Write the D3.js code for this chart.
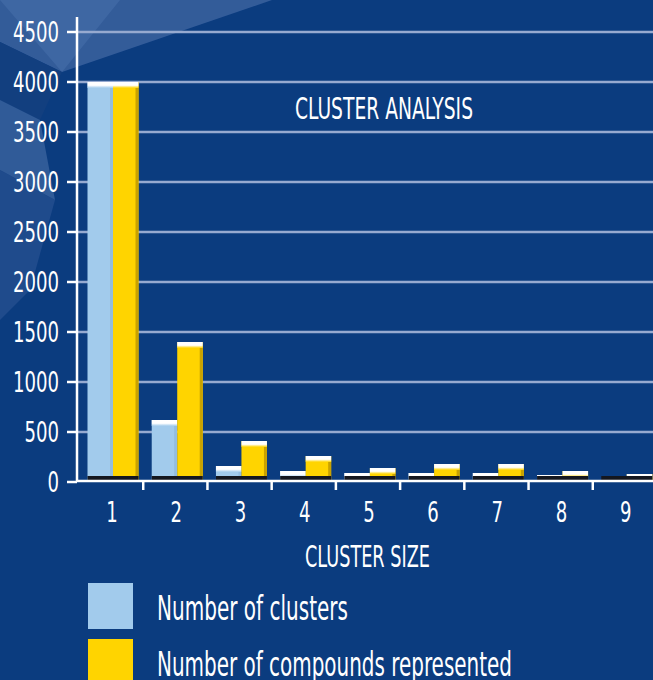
<!DOCTYPE html>
<html>
<head>
<meta charset="utf-8">
<script src="https://cdn.jsdelivr.net/npm/d3@7"></script>
<style>
  html, body { margin: 0; padding: 0; background: #0b3c7f; }
  svg { display: block; }
  text { font-family: 'Liberation Sans Narrow', 'Arial Narrow', 'DejaVu Sans Condensed', sans-serif; fill: #fff; }
</style>
</head>
<body>
<div id="chart"></div>
<script>
'use strict';

// cluster size categories
const categories = ['1', '2', '3', '4', '5', '6', '7', '8', '9'];
// number of clusters per size
const clusterCounts = [4000, 620, 160, 110, 90, 90, 90, 70, 5];
// number of compounds represented per size
const compoundCounts = [4000, 1400, 410, 260, 140, 180, 180, 110, 80];
const yTicks = [0, 500, 1000, 1500, 2000, 2500, 3000, 3500, 4000, 4500];
const seriesNames = ['Number of clusters', 'Number of compounds represented'];
const seriesColors = ['#a2cbec', '#ffd400'];

const W = 653, H = 680;
const DIGIT = 11.5; // narrow digit width
const svg = d3.select('#chart').append('svg')
  .attr('width', W)
  .attr('height', H);

const defs = svg.append('defs');
seriesColors.forEach((c, i) => {
  var g = defs.append('linearGradient')
    .attr('id', 'top-' + i)
    .attr('x1', 0).attr('y1', 0).attr('x2', 0).attr('y2', 1);
  g.append('stop').attr('offset', '0%').attr('stop-color', '#ffffff');
  g.append('stop').attr('offset', '55%').attr('stop-color', '#ffffff');
  g.append('stop').attr('offset', '100%').attr('stop-color', c);
});

// background
svg.append('rect').attr('width', W).attr('height', H).attr('fill', '#0b3c7f');
// faceted decoration top-left
var deco = svg.append('g').attr('class', 'deco');
[
  {p: [[0, 0], [272, 0], [62, 72], [0, 42]], f: '#3d64a0', o: 0.8},
  {p: [[0, 0], [120, 0], [62, 72]], f: '#4a72ad', o: 0.5},
  {p: [[0, 42], [62, 72], [40, 120], [0, 100]], f: '#133f80', o: 0.9},
  {p: [[0, 100], [40, 120], [55, 200], [0, 170]], f: '#4a70a8', o: 0.6},
  {p: [[0, 170], [55, 200], [30, 290], [0, 320]], f: '#33599a', o: 0.5}
].forEach(d => {
  deco.append('polygon')
    .attr('points', d.p.map(q => q.join(',')).join(' '))
    .attr('fill', d.f)
    .attr('opacity', d.o);
});

const x = d3.scaleBand().domain(categories).range([79, 657]);
const xs = d3.scaleBand().domain([0, 1]).range([8.5, 59.5]);
const y = d3.scaleLinear().domain([0, 4500]).range([482, 32]);

// gridlines
svg.append('g').attr('class', 'grid')
  .selectAll('line').data(yTicks.filter(t => t > 0))
  .enter().append('line')
  .attr('x1', 77).attr('x2', W)
  .attr('y1', d => y(d)).attr('y2', d => y(d))
  .attr('stroke', '#97aad0')
  .attr('stroke-width', 2.5);

// bars
var rows = categories.map((c, i) => ({cat: c, vals: [clusterCounts[i], compoundCounts[i]]}));
var groups = svg.append('g').attr('class', 'bars')
  .selectAll('g').data(rows)
  .enter().append('g')
  .attr('transform', d => 'translate(' + x(d.cat) + ',0)');

var bar = groups.selectAll('g').data(d => d.vals.map((v, k) => ({v: v, k: k})))
  .enter().append('g');
bar.append('rect')
  .attr('x', d => xs(d.k))
  .attr('y', d => y(d.v))
  .attr('width', xs.bandwidth())
  .attr('height', d => y(0) - y(d.v))
  .attr('fill', d => seriesColors[d.k]);
// darker right edge
bar.append('rect')
  .attr('x', d => xs(d.k) + xs.bandwidth() - 3)
  .attr('y', d => y(d.v))
  .attr('width', 3)
  .attr('height', d => y(0) - y(d.v))
  .attr('fill', d => d.k === 1 ? '#c9a200' : '#86b0d4')
  .attr('opacity', d => d.k === 1 ? 1 : 0.5);
// top highlight
bar.append('rect')
  .attr('x', d => xs(d.k))
  .attr('y', d => y(d.v))
  .attr('width', xs.bandwidth())
  .attr('height', d => Math.min(6, y(0) - y(d.v)))
  .attr('fill', d => 'url(#top-' + d.k + ')');
// floor shadow
groups.append('rect')
  .attr('x', xs(0))
  .attr('y', y(0) - 6)
  .attr('width', xs.bandwidth() * 2)
  .attr('height', 5)
  .attr('fill', '#14171f');

// axes
svg.append('line')
  .attr('x1', 77).attr('x2', 77)
  .attr('y1', 17).attr('y2', y(0))
  .attr('stroke', '#fff').attr('stroke-width', 2.5);
svg.append('line')
  .attr('x1', 77).attr('x2', W)
  .attr('y1', y(0) - 1).attr('y2', y(0) - 1)
  .attr('stroke', '#fff').attr('stroke-width', 2.5);

var yAxis = svg.append('g').attr('class', 'y-axis');
yAxis.selectAll('line').data(yTicks)
  .enter().append('line')
  .attr('x1', 67).attr('x2', 77)
  .attr('y1', d => y(d)).attr('y2', d => y(d))
  .attr('stroke', '#fff').attr('stroke-width', 2.5);
yAxis.selectAll('text').data(yTicks)
  .enter().append('text')
  .attr('x', 59)
  .attr('y', d => y(d))
  .attr('dy', '0.36em')
  .attr('text-anchor', 'end')
  .attr('font-size', 28)
  .attr('textLength', d => String(d).length * DIGIT)
  .attr('lengthAdjust', 'spacingAndGlyphs')
  .text(d => d);

var xAxis = svg.append('g').attr('class', 'x-axis');
xAxis.selectAll('line').data(categories.slice(1))
  .enter().append('line')
  .attr('x1', d => x(d)).attr('x2', d => x(d))
  .attr('y1', y(0) - 1).attr('y2', y(0) + 8)
  .attr('stroke', '#fff').attr('stroke-width', 2.5);
xAxis.selectAll('text').data(categories)
  .enter().append('text')
  .attr('x', d => x(d) + 33)
  .attr('y', 522)
  .attr('text-anchor', 'middle')
  .attr('font-size', 28)
  .attr('textLength', DIGIT)
  .attr('lengthAdjust', 'spacingAndGlyphs')
  .text(d => d);

// titles
svg.append('text')
  .attr('x', 295).attr('y', 119)
  .attr('font-size', 31)
  .attr('textLength', 178)
  .attr('lengthAdjust', 'spacingAndGlyphs')
  .text('CLUSTER ANALYSIS');
svg.append('text')
  .attr('x', 305).attr('y', 567)
  .attr('font-size', 31)
  .attr('textLength', 125)
  .attr('lengthAdjust', 'spacingAndGlyphs')
  .text('CLUSTER SIZE');

// legend
var legend = svg.append('g').attr('class', 'legend')
  .selectAll('g').data(seriesNames)
  .enter().append('g')
  .attr('transform', (d, i) => 'translate(88,' + (583 + i * 56) + ')');
legend.append('rect')
  .attr('width', 45).attr('height', 46)
  .attr('fill', (d, i) => seriesColors[i]);
legend.append('text')
  .attr('x', 69).attr('y', 37)
  .attr('font-size', 34)
  .attr('textLength', (d, i) => i === 0 ? 191 : 355)
  .attr('lengthAdjust', 'spacingAndGlyphs')
  .text(d => d);
</script>
</body>
</html>
